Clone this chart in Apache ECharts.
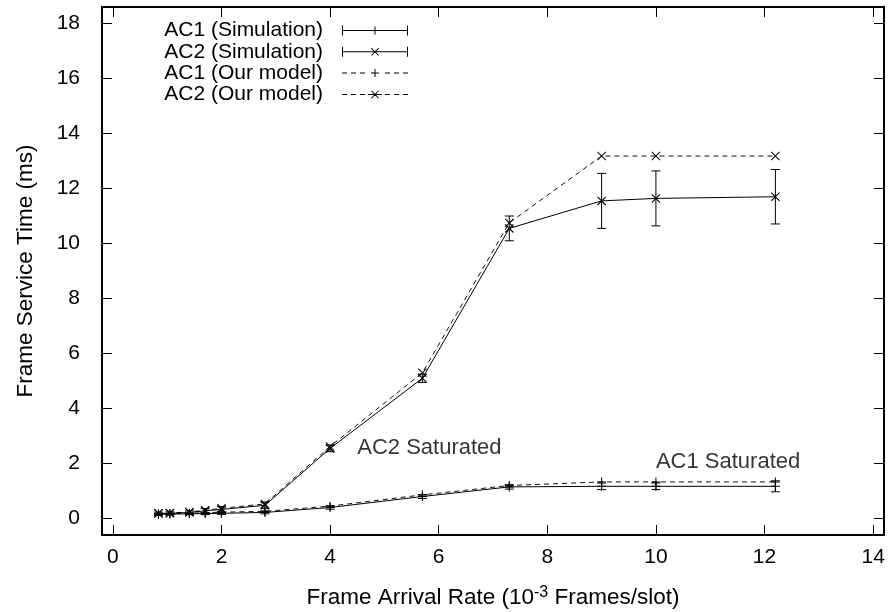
<!DOCTYPE html>
<html>
<head>
<meta charset="utf-8">
<script src="https://cdn.jsdelivr.net/npm/echarts@6/dist/echarts.min.js"></script>
<style>html,body{margin:0;padding:0;background:#fff}#c{width:893px;height:612px}</style>
</head>
<body>
<div id="c"></div>
<script>
// ---- data ----
const xRate = [0.84, 1.05, 1.41, 1.70, 2.0, 2.8, 4.0, 5.7, 7.3, 9.0, 10.0, 12.2];
const ac1Sim = [0.15, 0.16, 0.17, 0.18, 0.19, 0.22, 0.40, 0.80, 1.15, 1.17, 1.17, 1.17];
const ac1SimErr = [0.03, 0.03, 0.03, 0.04, 0.04, 0.05, 0.06, 0.07, 0.08, 0.12, 0.12, 0.2];
const ac2Sim = [0.18, 0.19, 0.22, 0.28, 0.33, 0.48, 2.55, 5.10, 10.55, 11.55, 11.64, 11.70];
const ac2SimErr = [0.05, 0.05, 0.06, 0.08, 0.1, 0.12, 0.12, 0.15, 0.45, 1.0, 1.0, 0.99];
const ac1Model = [0.17, 0.18, 0.19, 0.21, 0.23, 0.26, 0.45, 0.86, 1.20, 1.33, 1.33, 1.33];
const ac2Model = [0.19, 0.20, 0.24, 0.30, 0.37, 0.53, 2.62, 5.30, 10.75, 13.18, 13.18, 13.18];
const xTicks = [0, 2, 4, 6, 8, 10, 12, 14];
const yTicks = [0, 2, 4, 6, 8, 10, 12, 14, 16, 18];
const annotations = [[4.5, 2.55, 'AC2 Saturated'], [10.0, 2.04, 'AC1 Saturated']];
const names = ['AC1 (Simulation)', 'AC2 (Simulation)', 'AC1 (Our model)', 'AC2 (Our model)'];

// ---- helpers ----
const FONT = 'Liberation Sans';
const PLUS = 'path://M4.4,0H5.6V10H4.4Z M0,4.4H10V5.6H0Z';
const CROSS = 'path://M0,0.85L0.85,0L10,9.15L9.15,10Z M9.15,0L10,0.85L0.85,10L0,9.15Z';
const pts = ys => xRate.map((x, i) => [x, ys[i]]);
const errs = (ys, es) => xRate.map((x, i) => [x, ys[i] - es[i], ys[i] + es[i]]);

const keySimPlus = 'path://M0,0H1V10H0Z M65,0H66V10H65Z M0,4.5H66V5.5H0Z M32.5,1H33.5V9H32.5Z M29,4.5H37V5.5H29Z';
const keySimCross = 'path://M0,0H1V10H0Z M65,0H66V10H65Z M0,4.5H66V5.5H0Z M29,1.6L29.7,1L37,8.4L36.3,9Z M36.3,1L37,1.6L29.7,9L29,8.4Z';
const dashes = 'M0,4.5H5V5.5H0Z M9,4.5H14V5.5H9Z M18,4.5H23V5.5H18Z M43,4.5H48V5.5H43Z M52,4.5H57V5.5H52Z M61,4.5H66V5.5H61Z';
const keyModPlus = 'path://' + dashes + ' M32.5,1H33.5V9H32.5Z M29,4.5H37V5.5H29Z M0,0H0.01V0.01Z M66,10H65.99V9.99Z';
const keyModCross = 'path://' + dashes + ' M29,1.6L29.7,1L37,8.4L36.3,9Z M36.3,1L37,1.6L29.7,9L29,8.4Z M26,4.5H40V5.5H26Z M0,0H0.01V0.01Z M66,10H65.99V9.99Z';
const icons = [keySimPlus, keySimCross, keyModPlus, keyModCross];
const legendTops = [20, 41.3, 62.6, 84];

function errorBar(params, api) {
  const x = api.value(0);
  const lo = api.coord([x, api.value(1)]);
  const hi = api.coord([x, api.value(2)]);
  const w = 4.5;
  const st = { stroke: '#000', lineWidth: 1 };
  return {
    type: 'group',
    children: [
      { type: 'line', shape: { x1: lo[0], y1: lo[1], x2: hi[0], y2: hi[1] }, style: st },
      { type: 'line', shape: { x1: lo[0] - w, y1: lo[1], x2: lo[0] + w, y2: lo[1] }, style: st },
      { type: 'line', shape: { x1: hi[0] - w, y1: hi[1], x2: hi[0] + w, y2: hi[1] }, style: st }
    ]
  };
}

const axisCommonX = {
  type: 'value', min: -0.2, max: 14.2,
  splitLine: { show: false },
  axisLine: { show: true, onZero: false, lineStyle: { color: '#000', width: 2 } },
  axisTick: { show: true, inside: true, length: 10, customValues: xTicks, lineStyle: { color: '#000', width: 1 } }
};
const axisCommonY = {
  type: 'value', min: -0.6, max: 18.6,
  splitLine: { show: false },
  axisLine: { show: true, onZero: false, lineStyle: { color: '#000', width: 2 } },
  axisTick: { show: true, inside: true, length: 10, customValues: yTicks, lineStyle: { color: '#000', width: 1 } }
};

const chart = echarts.init(document.getElementById('c'), null, { renderer: 'canvas' });
chart.setOption({
  animation: false,
  backgroundColor: '#fff',
  textStyle: { fontFamily: FONT, color: '#000' },
  grid: { left: 102, right: 9, top: 7, bottom: 77, containLabel: false, outerBoundsMode: 'none' },
  xAxis: [
    Object.assign({}, axisCommonX, {
      position: 'bottom',
      axisLabel: { show: true, customValues: xTicks, margin: 12, fontSize: 21, color: '#000', fontFamily: FONT },
      name: '{n|Frame Arrival Rate (10}{s|-3}{n| Frames/slot)}',
      nameLocation: 'middle', nameGap: 43,
      nameTextStyle: {
        rich: {
          n: { fontSize: 22.5, fontFamily: FONT, color: '#000', padding: [8, 0, 0, 0] },
          s: { fontSize: 16, fontFamily: FONT, color: '#000', padding: [0, 0, 2, 0] }
        }
      }
    }),
    Object.assign({}, axisCommonX, { position: 'top', axisLabel: { show: false } })
  ],
  yAxis: [
    Object.assign({}, axisCommonY, {
      position: 'left',
      axisLabel: { show: true, customValues: yTicks, margin: 22, fontSize: 21, color: '#000', fontFamily: FONT },
      name: 'Frame Service Time (ms)',
      nameLocation: 'middle', nameGap: 65,
      nameTextStyle: { fontSize: 22.5, fontFamily: FONT, color: '#000' }
    }),
    Object.assign({}, axisCommonY, { position: 'right', axisLabel: { show: false } })
  ],
  legend: names.map((n, i) => ({
    data: [{ name: n, icon: icons[i] }],
    orient: 'vertical',
    right: 485, top: legendTops[i],
    align: 'right',
    itemWidth: 66, itemHeight: 10,
    padding: 0,
    selectedMode: false,
    itemStyle: { color: '#000', borderWidth: 0 },
    textStyle: { fontSize: 21, fontFamily: FONT, color: '#000', padding: [0, 14, 0, 0] }
  })),
  series: [
    {
      name: names[0], type: 'line', data: pts(ac1Sim),
      symbol: PLUS, symbolSize: 9,
      lineStyle: { color: '#000', width: 1 },
      itemStyle: { color: '#000', borderWidth: 0 },
      z: 3
    },
    {
      name: names[1], type: 'line', data: pts(ac2Sim),
      symbol: CROSS, symbolSize: 9,
      lineStyle: { color: '#000', width: 1 },
      itemStyle: { color: '#000', borderWidth: 0 },
      z: 3
    },
    {
      name: names[2], type: 'line', data: pts(ac1Model),
      symbol: PLUS, symbolSize: 9,
      lineStyle: { color: '#111', width: 1, type: [5, 4] },
      itemStyle: { color: '#111', borderWidth: 0 },
      z: 2
    },
    {
      name: names[3], type: 'line', data: pts(ac2Model),
      symbol: CROSS, symbolSize: 9,
      lineStyle: { color: '#111', width: 1, type: [5, 4] },
      itemStyle: { color: '#111', borderWidth: 0 },
      z: 2
    },
    {
      type: 'custom', renderItem: errorBar, data: errs(ac1Sim, ac1SimErr),
      encode: { x: 0, y: [1, 2] }, z: 3, silent: true
    },
    {
      type: 'custom', renderItem: errorBar, data: errs(ac2Sim, ac2SimErr),
      encode: { x: 0, y: [1, 2] }, z: 3, silent: true
    },
    {
      type: 'scatter', symbolSize: 0, silent: true,
      data: annotations.map(a => ({ value: [a[0], a[1]], name: a[2] })),
      label: {
        show: true, position: 'right', distance: 0, formatter: p => p.name,
        fontSize: 22, fontFamily: FONT, color: '#000'
      }
    }
  ]
});
</script>
</body>
</html>
